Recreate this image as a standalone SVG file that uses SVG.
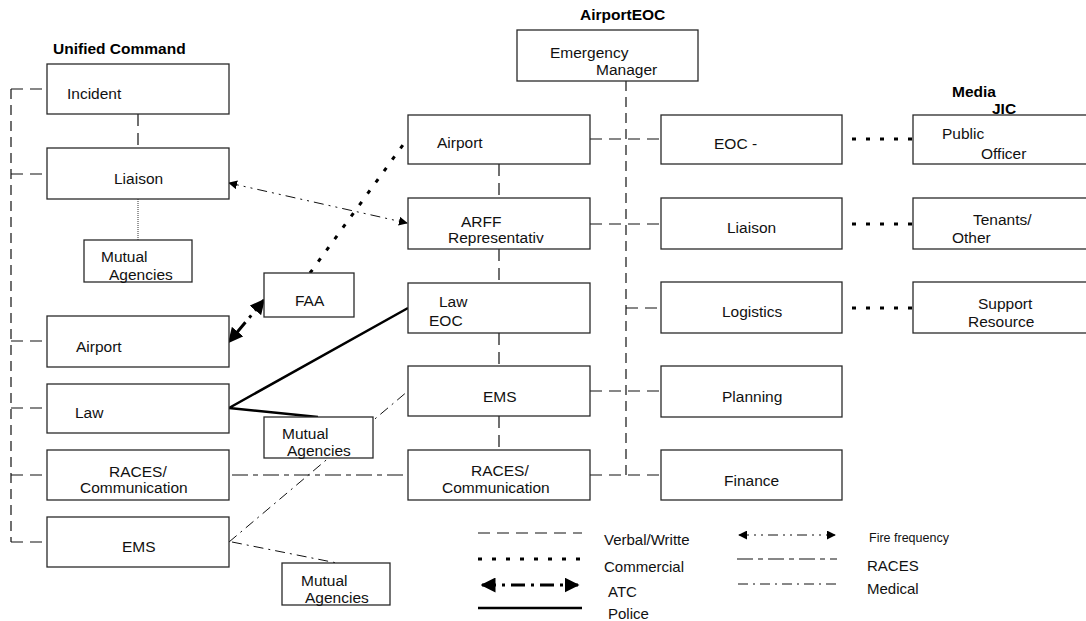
<svg xmlns="http://www.w3.org/2000/svg" width="1086" height="621" viewBox="0 0 1086 621">
<style>
.box{fill:#fff;stroke:#2a2a2a;stroke-width:1.3}
.t{font-family:"Liberation Sans",Arial,sans-serif;font-size:15.5px;fill:#111}
.b{font-family:"Liberation Sans",Arial,sans-serif;font-size:15.5px;font-weight:bold;fill:#000}
.lg{font-family:"Liberation Sans",Arial,sans-serif;font-size:15px;fill:#111}
.sm{font-family:"Liberation Sans",Arial,sans-serif;font-size:12.5px;fill:#111}
.verbal{fill:none;stroke:#111;stroke-width:1.2;stroke-dasharray:12 7}
.vert{fill:none;stroke:#111;stroke-width:1.2;stroke-dasharray:10 6}
.comm{fill:none;stroke:#000;stroke-width:3;stroke-dasharray:4 10}
.fine{fill:none;stroke:#333;stroke-width:1;stroke-dasharray:1 1}
.atc{fill:none;stroke:#000;stroke-width:3;stroke-dasharray:14 6 3 6}
.police{fill:none;stroke:#000;stroke-width:2.5}
.fire{fill:none;stroke:#111;stroke-width:1;stroke-dasharray:10 5 2 5 2 5}
.races{fill:none;stroke:#111;stroke-width:1.1;stroke-dasharray:16 5 5 5}
.med{fill:none;stroke:#111;stroke-width:1;stroke-dasharray:10 5 2 5}
</style>
<defs>
<marker id="big" viewBox="0 0 10 10" refX="9" refY="5" markerWidth="5" markerHeight="5" orient="auto-start-reverse" markerUnits="strokeWidth"><path d="M0,0 L10,5 L0,10 z" fill="#000"/></marker>
<marker id="small" viewBox="0 0 10 10" refX="9" refY="5" markerWidth="9" markerHeight="9" orient="auto-start-reverse" markerUnits="strokeWidth"><path d="M0,0 L10,5 L0,10 z" fill="#000"/></marker>
</defs>

<g id="titles">
<text class="b" x="53" y="54">Unified Command</text>
<text class="b" x="580" y="20">AirportEOC</text>
<text class="b" x="952" y="97">Media</text>
<text class="b" x="992" y="114">JIC</text>
</g>

<g id="connectors">
<!-- left verbal tree -->
<path class="vert" d="M11,89 V542"/>
<path class="verbal" d="M11,89 H47 M11,174 H47 M11,341 H47 M11,408 H47 M11,475 H47 M11,542 H47"/>
<path class="verbal" d="M138,114 V148"/>
<path class="fine" d="M138,199 V240"/>
<!-- middle column -->
<path class="verbal" d="M499,164 V198 M499,249 V283 M499,333 V366 M499,416 V450"/>
<path class="vert" d="M626,81 V475"/>
<path class="verbal" d="M590,139 H661 M590,224 H661 M626,308 H661 M590,391 H661 M590,475 H661"/>
<!-- commercial to JIC -->
<path class="comm" d="M852,139 H913 M852,224 H913 M852,308 H913"/>
<!-- commercial FAA to Airport -->
<path class="comm" d="M310,273 L408,138"/>
<!-- ATC -->
<path class="atc" d="M264,300 L229,342" marker-start="url(#big)" marker-end="url(#big)"/>
<!-- fire frequency -->
<path class="fire" d="M229,183 L407,223" marker-start="url(#small)" marker-end="url(#small)"/>
<!-- police -->
<path class="police" d="M229,408 L408,308 M229,408 L318,417"/>
<!-- races -->
<path class="races" d="M232,475 H408"/>
<!-- medical -->
<path class="med" d="M229,542 L408,391 M232,542 L337,563"/>
</g>

<g id="n-incident"><rect class="box" x="47" y="64" width="182" height="50"/><text class="t" x="67" y="99">Incident</text></g>
<g id="n-liaison-uc"><rect class="box" x="47" y="148" width="182" height="51"/><text class="t" x="114" y="184">Liaison</text></g>
<g id="n-mutual1"><rect class="box" x="84" y="240" width="108" height="42"/><text class="t" x="101" y="262">Mutual</text><text class="t" x="109" y="280">Agencies</text></g>
<g id="n-faa"><rect class="box" x="264" y="273" width="90" height="44"/><text class="t" x="295" y="306">FAA</text></g>
<g id="n-airport-uc"><rect class="box" x="47" y="316" width="182" height="51"/><text class="t" x="76" y="352">Airport</text></g>
<g id="n-law-uc"><rect class="box" x="47" y="384" width="182" height="49"/><text class="t" x="75" y="418">Law</text></g>
<g id="n-mutual2"><rect class="box" x="264" y="417" width="109" height="41"/><text class="t" x="282" y="439">Mutual</text><text class="t" x="287" y="456">Agencies</text></g>
<g id="n-races-uc"><rect class="box" x="47" y="450" width="182" height="50"/><text class="t" x="109" y="477">RACES/</text><text class="t" x="80" y="493">Communication</text></g>
<g id="n-ems-uc"><rect class="box" x="47" y="517" width="182" height="50"/><text class="t" x="122" y="552">EMS</text></g>
<g id="n-mutual3"><rect class="box" x="282" y="563" width="108" height="42"/><text class="t" x="301" y="586">Mutual</text><text class="t" x="305" y="603">Agencies</text></g>

<g id="n-em"><rect class="box" x="517" y="30" width="181" height="51"/><text class="t" x="550" y="58">Emergency</text><text class="t" x="596" y="75">Manager</text></g>
<g id="n-airport-eoc"><rect class="box" x="408" y="115" width="182" height="49"/><text class="t" x="437" y="148">Airport</text></g>
<g id="n-arff"><rect class="box" x="408" y="198" width="182" height="51"/><text class="t" x="461" y="227">ARFF</text><text class="t" x="448" y="243">Representativ</text></g>
<g id="n-law-eoc"><rect class="box" x="408" y="283" width="182" height="50"/><text class="t" x="439" y="307">Law</text><text class="t" x="429" y="326">EOC</text></g>
<g id="n-ems-eoc"><rect class="box" x="408" y="366" width="182" height="50"/><text class="t" x="483" y="402">EMS</text></g>
<g id="n-races-eoc"><rect class="box" x="408" y="450" width="182" height="50"/><text class="t" x="471" y="476">RACES/</text><text class="t" x="442" y="493">Communication</text></g>

<g id="n-eoc"><rect class="box" x="661" y="115" width="181" height="49"/><text class="t" x="714" y="149">EOC -</text></g>
<g id="n-liaison-eoc"><rect class="box" x="661" y="198" width="181" height="51"/><text class="t" x="727" y="233">Liaison</text></g>
<g id="n-logistics"><rect class="box" x="661" y="282" width="181" height="51"/><text class="t" x="722" y="317">Logistics</text></g>
<g id="n-planning"><rect class="box" x="661" y="366" width="181" height="51"/><text class="t" x="722" y="402">Planning</text></g>
<g id="n-finance"><rect class="box" x="661" y="450" width="181" height="50"/><text class="t" x="724" y="486">Finance</text></g>

<g id="n-public"><rect class="box" x="913" y="115" width="181" height="49"/><text class="t" x="942" y="139">Public</text><text class="t" x="981" y="159">Officer</text></g>
<g id="n-tenants"><rect class="box" x="913" y="198" width="181" height="51"/><text class="t" x="973" y="225">Tenants/</text><text class="t" x="952" y="243">Other</text></g>
<g id="n-support"><rect class="box" x="913" y="282" width="181" height="51"/><text class="t" x="978" y="309">Support</text><text class="t" x="968" y="327">Resource</text></g>

<g id="legend">
<path class="verbal" d="M478,533 H582"/>
<text class="lg" x="604" y="545">Verbal/Writte</text>
<path class="comm" d="M478,559 H582"/>
<text class="lg" x="604" y="572">Commercial</text>
<path class="atc" d="M482,585 H578" marker-start="url(#big)" marker-end="url(#big)"/>
<text class="lg" x="608" y="597">ATC</text>
<path class="police" d="M478,608 H582"/>
<text class="lg" x="608" y="619">Police</text>
<path class="fire" d="M739,535 H835" marker-start="url(#small)" marker-end="url(#small)"/>
<text class="sm" x="869" y="542">Fire frequency</text>
<path class="races" d="M737,559 H837"/>
<text class="lg" x="867" y="571">RACES</text>
<path class="med" d="M738,584 H837"/>
<text class="lg" x="867" y="594">Medical</text>
</g>
</svg>
